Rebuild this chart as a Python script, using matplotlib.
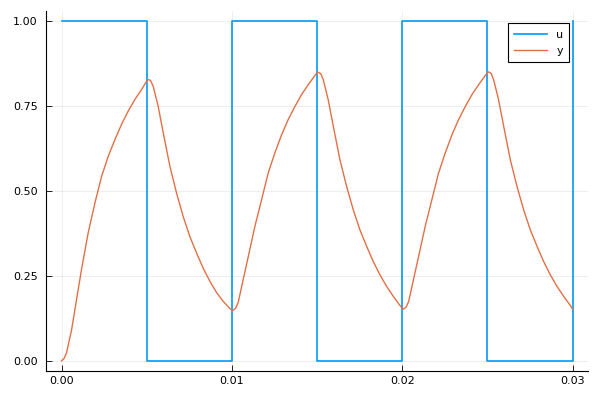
import matplotlib.pyplot as plt

# input: square wave switching every 0.005 s
t_u = [0.0, 0.005, 0.01, 0.015, 0.02, 0.025, 0.03]
u = [1, 0, 1, 0, 1, 0, 1]

# output: values
t_y = [0.0, 0.00015, 0.00029, 0.00059, 0.00088, 0.00117, 0.00156, 0.00196, 0.00235,
       0.00274, 0.00313, 0.00352, 0.00391, 0.0043, 0.0047, 0.00505,
       0.00522, 0.00538, 0.00567, 0.00597, 0.00636, 0.00675, 0.00714, 0.00753,
       0.00793, 0.00831, 0.00871, 0.0091, 0.00949, 0.00988, 0.01005,
       0.01022, 0.01037, 0.01066, 0.01096, 0.01135, 0.01174, 0.01213, 0.01252,
       0.01292, 0.0133, 0.0137, 0.01409, 0.01448, 0.01487, 0.01505,
       0.01522, 0.01536, 0.01565, 0.01595, 0.01634, 0.01673, 0.01712, 0.01751,
       0.01791, 0.01829, 0.01869, 0.01908, 0.01947, 0.01986, 0.02005,
       0.02022, 0.02037, 0.02066, 0.02096, 0.02135, 0.02174, 0.02213, 0.02252,
       0.02292, 0.0233, 0.0237, 0.02409, 0.02448, 0.02487, 0.02505,
       0.02522, 0.02536, 0.02565, 0.02595, 0.02634, 0.02673, 0.02712, 0.02751,
       0.02791, 0.02829, 0.02869, 0.02908, 0.02947, 0.02986, 0.03]
y = [0.0, 0.007, 0.023, 0.091, 0.18, 0.268, 0.376, 0.465, 0.543,
     0.602, 0.651, 0.696, 0.735, 0.769, 0.799, 0.828,
     0.826, 0.808, 0.750, 0.671, 0.573, 0.494, 0.425, 0.366,
     0.317, 0.273, 0.234, 0.201, 0.175, 0.154, 0.148,
     0.155, 0.172, 0.239, 0.307, 0.396, 0.474, 0.553, 0.612,
     0.666, 0.710, 0.749, 0.784, 0.813, 0.840, 0.850,
     0.845, 0.828, 0.769, 0.691, 0.592, 0.514, 0.445, 0.386,
     0.337, 0.293, 0.253, 0.219, 0.190, 0.163, 0.152,
     0.158, 0.174, 0.240, 0.308, 0.397, 0.475, 0.553, 0.612,
     0.666, 0.710, 0.749, 0.784, 0.813, 0.840, 0.851,
     0.846, 0.828, 0.769, 0.691, 0.592, 0.514, 0.445, 0.386,
     0.337, 0.293, 0.253, 0.219, 0.190, 0.163, 0.152]

fig = plt.figure(figsize=(6, 4), dpi=100)
ax = fig.add_axes([0.077, 0.0725, 0.903, 0.9])

ax.plot(t_u, u, drawstyle='steps-post', color='#009AFA', lw=1.2, label='u')
ax.plot(t_y, y, color='#E36F47', lw=1.0, label='y')

ax.set_xlim(-0.0009, 0.0309)
ax.set_ylim(-0.03, 1.03)
ax.set_xticks([0, 0.01, 0.02, 0.03])
ax.set_xticklabels(['0.00', '0.01', '0.02', '0.03'])
ax.set_yticks([0, 0.25, 0.5, 0.75, 1.0])
ax.set_yticklabels(['0.00', '0.25', '0.50', '0.75', '1.00'])
ax.tick_params(direction='in', length=4, width=0.6, labelsize=8, colors='black')
ax.tick_params(axis='y', pad=6)
ax.grid(True, color='black', alpha=0.08, lw=0.6)
for side in ['top', 'right']:
    ax.spines[side].set_visible(False)

leg = ax.legend(loc='upper right', fontsize=8, fancybox=False, framealpha=1,
                edgecolor='black', handlelength=3.0, borderpad=0.55,
                labelspacing=0.6, bbox_to_anchor=(0.976, 0.981))
leg.get_frame().set_linewidth(0.8)

fig.savefig('out.png', dpi=100)
